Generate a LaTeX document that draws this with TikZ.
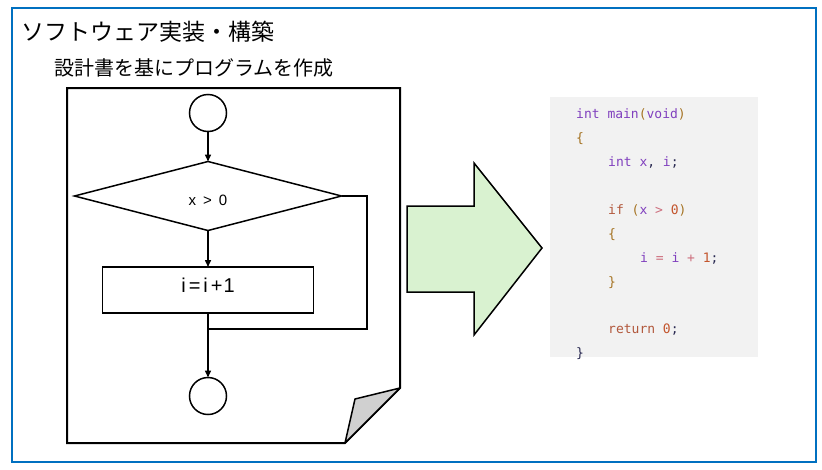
\documentclass[tikz,border=0pt]{standalone}
\usepackage{fontspec}
\setmainfont{Liberation Sans}
\setmonofont{DejaVu Sans Mono}
\newfontfamily\jpfont{Noto Sans CJK JP}
\usetikzlibrary{shapes.geometric,arrows.meta}
\definecolor{frameblue}{RGB}{0,112,192}
\definecolor{arrowgreen}{RGB}{217,242,208}
\definecolor{foldgray}{RGB}{208,208,208}
\definecolor{codebg}{RGB}{242,242,242}
\definecolor{ckw}{RGB}{128,64,190}
\definecolor{cpar}{RGB}{165,115,35}
\definecolor{cctl}{RGB}{178,88,60}
\definecolor{cnum}{RGB}{195,85,45}
\definecolor{cop}{RGB}{205,110,125}
\definecolor{csemi}{RGB}{40,40,80}
\newcommand{\kw}[1]{\textcolor{ckw}{#1}}
\newcommand{\pa}[1]{\textcolor{cpar}{#1}}
\newcommand{\ct}[1]{\textcolor{cctl}{#1}}
\newcommand{\nm}[1]{\textcolor{cnum}{#1}}
\newcommand{\op}[1]{\textcolor{cop}{#1}}
\newcommand{\se}[1]{\textcolor{csemi}{#1}}
\begin{document}
\begin{tikzpicture}[x=1pt,y=-1pt,
  flow/.style={draw=black,line width=1.5pt},
  termnode/.style={flow,circle,minimum size=37pt,inner sep=0pt,outer sep=0pt},
  decnode/.style={flow,diamond,aspect=3.87,minimum width=267pt,minimum height=69pt,inner sep=0pt,outer sep=0pt,font=\fontsize{15pt}{15pt}\selectfont},
  procnode/.style={flow,rectangle,minimum width=211pt,minimum height=46pt,inner sep=0pt,outer sep=0pt,font=\fontsize{20pt}{20pt}\selectfont},
  conn/.style={line width=1.5pt,-{Triangle[length=7pt,width=6pt]}},
  codeline/.style={anchor=base west,inner sep=0pt,font=\ttfamily\fontsize{13pt}{13pt}\selectfont}
]
\useasboundingbox (0,0) rectangle (822,469);
% outer frame
\draw[frameblue,line width=2.2pt] (12,8) rectangle (816,462);
% titles
\node[anchor=west,inner sep=0pt,font=\jpfont\fontsize{23pt}{23pt}\selectfont] (title) at (21,32) {ソフトウェア実装・構築};
\node[anchor=west,inner sep=0pt,font=\jpfont\fontsize{20pt}{20pt}\selectfont] (subtitle) at (54,68) {設計書を基にプログラムを作成};
% document page
\draw[line width=2pt,fill=white] (67,88) -- (400,88) -- (400,388) -- (345,443) -- (67,443) -- cycle;
\draw[line width=1.5pt,fill=foldgray,line join=round] (400,388) -- (355,399) -- (345,443) -- cycle;
% flowchart
\node[termnode] (start) at (208,113) {};
\node[decnode] (dec) at (208,196) {\smash{\raisebox{-9pt}{x\hspace{7pt}>\hspace{7pt}0}}};
\node[procnode] (proc) at (208,290) {\smash{\raisebox{-2pt}{i\hspace{3pt}=\hspace{3pt}i\hspace{3pt}+\hspace{1pt}1}}};
\node[termnode] (end) at (208,396) {};
\coordinate (rb) at (367,196);
\coordinate (jn) at (208,329);
\draw[conn] (start) -- (dec);
\draw[conn] (dec) -- (proc);
\draw[flow] (dec.east) -- (rb) |- (jn);
\draw[conn] (proc) -- (end);
% big arrow
\draw[line width=1.5pt,fill=arrowgreen,line join=miter] (407,206) -- (474,206) -- (474,163) -- (542,248) -- (474,335) -- (474,292) -- (407,292) -- cycle;
% code block
\fill[codebg] (550,97) rectangle (758,357);
\node[codeline] (l1) at (576,118) {\kw{int main}\pa{(}\kw{void}\pa{)}};
\node[codeline] (l2) at (576,142) {\pa{\{}};
\node[codeline] (l3) at (608,166) {\kw{int x}\se{,} \kw{i}\se{;}};
\node[codeline] (l5) at (608,214) {\ct{if} \pa{(}\kw{x} \op{>} \nm{0}\pa{)}};
\node[codeline] (l6) at (608,238) {\pa{\{}};
\node[codeline] (l7) at (640,262) {\kw{i} \op{=} \kw{i} \op{+} \nm{1}\se{;}};
\node[codeline] (l8) at (608,286) {\pa{\}}};
\node[codeline] (l10) at (608,333) {\ct{return} \nm{0}\se{;}};
\node[codeline] (l11) at (576,357) {\se{\}}};
\end{tikzpicture}
\end{document}
